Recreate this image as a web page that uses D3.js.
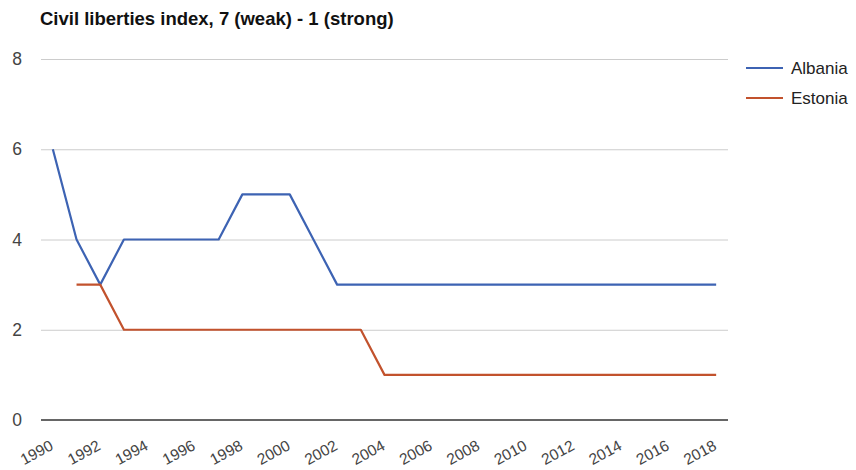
<!DOCTYPE html>
<html>
<head>
<meta charset="utf-8">
<script src="https://cdn.jsdelivr.net/npm/d3@7"></script>
<style>
  html, body { margin: 0; padding: 0; background: #fff; }
  svg { display: block; font-family: Arial, "Liberation Sans", sans-serif; }
</style>
</head>
<body>
<svg id="chart" width="856" height="470"></svg>
<script>
// Freedom House civil liberties ratings, 7 = weakest, 1 = strongest
const years = d3.range(1990, 2019);
const albania = [6, 4, 3, 4, 4, 4, 4, 4, 5, 5, 5, 4, 3, 3, 3, 3, 3, 3, 3, 3, 3, 3, 3, 3, 3, 3, 3, 3, 3];
const estonia = [null, 3, 3, 2, 2, 2, 2, 2, 2, 2, 2, 2, 2, 2, 1, 1, 1, 1, 1, 1, 1, 1, 1, 1, 1, 1, 1, 1, 1];
const seriesNames = ["Albania", "Estonia"];
const seriesColors = ["#3d63b3", "#c2522d"];
const yTicks = [0, 2, 4, 6, 8];
const xTicks = d3.range(1990, 2019, 2);
const title = "Civil liberties index, 7 (weak) - 1 (strong)";

const svg = d3.select("#chart");
const plot = { left: 41, right: 728, top: 59, bottom: 420 };

const x = d3.scaleLinear().domain([1989.5, 2018.5]).range([plot.left, plot.right]);
const y = d3.scaleLinear().domain([0, 8]).range([plot.bottom, plot.top]);

// Title
svg.append("text")
  .attr("x", 40).attr("y", 25)
  .attr("font-size", 18.5).attr("font-weight", "bold").attr("fill", "#111")
  .text(title);

// Horizontal gridlines and y labels
const yAxis = d3.axisLeft(y).tickValues(yTicks).tickSize(-(plot.right - plot.left)).tickPadding(19);
const gy = svg.append("g").attr("transform", `translate(${plot.left},0)`).call(yAxis);
gy.select(".domain").remove();
gy.selectAll(".tick line").attr("stroke", "#cccccc").attr("stroke-width", 1);
gy.selectAll(".tick text").attr("font-size", 17.5).attr("fill", "#444").attr("font-family", "Arial, 'Liberation Sans', sans-serif");

// Baseline at zero
svg.append("line")
  .attr("x1", plot.left).attr("x2", plot.right)
  .attr("y1", y(0)).attr("y2", y(0))
  .attr("stroke", "#666").attr("stroke-width", 2);

// Slanted year labels
const xAxis = d3.axisBottom(x).tickValues(xTicks).tickFormat(d3.format("d")).tickSize(0);
const gx = svg.append("g").attr("transform", `translate(0,${plot.bottom})`).call(xAxis);
gx.select(".domain").remove();
gx.selectAll(".tick text")
  .attr("font-size", 15.5).attr("fill", "#444")
  .attr("font-family", "Arial, 'Liberation Sans', sans-serif")
  .attr("text-anchor", "end")
  .attr("dy", null).attr("y", null)
  .attr("transform", "translate(1,29) rotate(-28)");

// Lines
const line = d3.line()
  .defined(d => d.v != null)
  .x(d => x(d.year))
  .y(d => y(d.v));

[albania, estonia].forEach((vals, i) => {
  const data = years.map((yr, j) => ({ year: yr, v: vals[j] }));
  svg.append("path")
    .datum(data)
    .attr("fill", "none")
    .attr("stroke", seriesColors[i])
    .attr("stroke-width", 2.2)
    .attr("stroke-linejoin", "round")
    .attr("d", line);
});

// Legend
const legend = svg.append("g");
seriesNames.forEach((name, i) => {
  const ly = 68 + i * 30;
  legend.append("line")
    .attr("x1", 746).attr("x2", 783).attr("y1", ly).attr("y2", ly)
    .attr("stroke", seriesColors[i]).attr("stroke-width", 2.2);
  legend.append("text")
    .attr("x", 791).attr("y", ly + 6)
    .attr("font-size", 17).attr("fill", "#222")
    .text(name);
});
</script>
</body>
</html>
